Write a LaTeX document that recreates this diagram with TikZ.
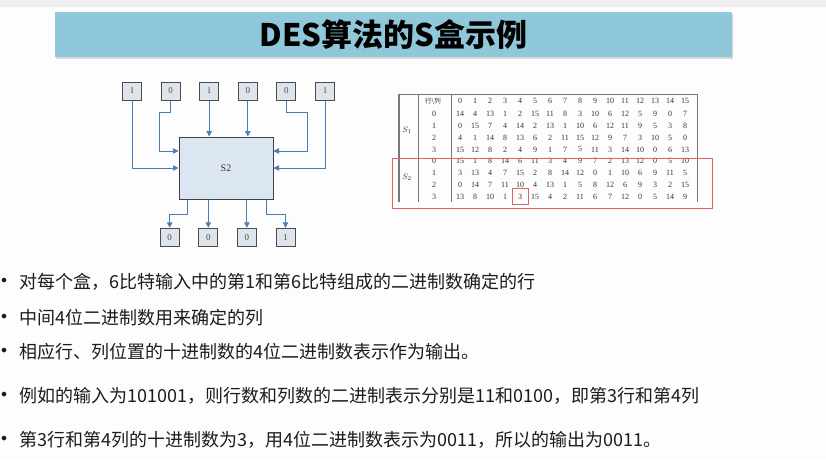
\documentclass[tikz,border=0pt]{standalone}
\usepackage{fontspec}
\setmainfont{Liberation Serif}
\newfontfamily\cjk{Noto Sans CJK SC}
\newfontfamily\dotfont{DejaVu Sans}
\usetikzlibrary{positioning,arrows.meta,shadows}
\definecolor{PageGray}{RGB}{239,239,239}
\definecolor{PageWhite}{RGB}{253,253,253}
\definecolor{BarBlue}{RGB}{143,200,218}
\definecolor{FlowBlue}{RGB}{74,126,187}
\definecolor{BitFill}{RGB}{222,228,236}
\definecolor{SBoxFill}{RGB}{220,230,242}
\definecolor{TableGray}{RGB}{120,120,120}
\definecolor{FrameRed}{RGB}{226,98,98}
\definecolor{TextDark}{RGB}{28,28,28}
\tikzset{
  flow/.style={-{Triangle[length=5.5pt,width=5.5pt]},line width=0.9pt,draw=FlowBlue},
  bitbox/.style={draw=black!70,fill=BitFill,line width=1pt,minimum width=19pt,
    minimum height=18pt,inner sep=0pt,font=\fontsize{9}{10}\selectfont,text=black!70},
  sboxnode/.style={draw=black!75,fill=SBoxFill,line width=1pt,minimum width=94pt,
    minimum height=62pt,inner sep=0pt,font=\fontsize{10}{12}\selectfont,text=black!80},
  titlebar/.style={fill=BarBlue,minimum width=677pt,minimum height=45pt,inner sep=0pt,
    drop shadow={shadow xshift=1pt,shadow yshift=-2pt,opacity=0.3},
    font=\cjk\bfseries\fontsize{31}{33}\selectfont},
  cell/.style={inner sep=0pt,font=\fontsize{8}{9}\selectfont,text=black!80},
  tabline/.style={draw=TableGray,line width=1.1pt},
  redframe/.style={draw=FrameRed,line width=0.9pt},
  bullet/.style={anchor=center,inner sep=0pt,font=\dotfont\fontsize{16}{17}\selectfont,text=TextDark},
  point/.style={anchor=west,inner sep=0pt,font=\cjk\fontsize{18}{20}\selectfont,text=TextDark}
}

\begin{document}
\begin{tikzpicture}[x=1pt,y=1pt,node distance=18.6pt]
  \fill[PageWhite] (0,0) rectangle (826,459);
  \fill[PageGray] (0,452) rectangle (826,459);
  \useasboundingbox (0,0) rectangle (826,459);

  \node[titlebar] (title) at (393.5,424.5) {DES算法的S盒示例};

  \node[bitbox] (in1) at (132,368) {1};
  \node[bitbox,right=of in1] (in2) {0};
  \node[bitbox,right=of in2] (in3) {1};
  \node[bitbox,right=of in3] (in4) {0};
  \node[bitbox,right=of in4] (in5) {0};
  \node[bitbox,right=of in5] (in6) {1};
  \node[sboxnode] (sbox) at (226,291) {S2};
  \node[bitbox] (out1) at (169.7,221.7) {0};
  \node[bitbox,right=of out1] (out2) {0};
  \node[bitbox,right=of out2] (out3) {0};
  \node[bitbox,right=of out3] (out4) {1};

  \draw[flow] (in1.south) |- (sbox.west);
  \draw[flow] (in2.south) |- ++(-11,-12) |- ([yshift=17pt]sbox.west);
  \draw[flow] (in3) -- (in3 |- sbox.north);
  \draw[flow] (in4) -- (in4 |- sbox.north);
  \draw[flow] (in5.south) |- ++(21,-12) |- ([yshift=17pt]sbox.east);
  \draw[flow] (in6.south) |- (sbox.east);
  \draw[flow] ([xshift=-39pt]sbox.south) -- ++(0,-15) -| (out1.north);
  \draw[flow] (sbox.south -| out2) -- (out2);
  \draw[flow] (sbox.south -| out3) -- (out3);
  \draw[flow] ([xshift=40pt]sbox.south) -- ++(0,-15) -| (out4.north);

  \draw[tabline] (399,257.3) -- (399,364.7) -- (697.7,364.7) -- (697.7,257.3);
  \draw[tabline] (418.3,364.7) -- (418.3,257.3);
  \draw[tabline] (451.7,364.7) -- (451.7,257.3);
  \node[cell,font=\cjk\fontsize{6.5}{7}\selectfont] (head) at (433,358) {行\symbol{92}列};
  \foreach \c in {0,...,15}
    \node[cell] (h-\c) at (460+15*\c,358) {\c};
  \node[cell,font=\itshape\fontsize{8}{9}\selectfont] (s1) at (407,329) {$S_1$};
  \node[cell,font=\itshape\fontsize{8}{9}\selectfont] (s2) at (407,282) {$S_2$};
  \foreach \r in {0,...,7} {
    \pgfmathtruncatemacro\idx{mod(\r,4)}
    \node[cell] (r-\r) at (434,345-11.8*\r) {\idx};
  }
  \foreach \row [count=\r from 0] in {
    {14,4,13,1,2,15,11,8,3,10,6,12,5,9,0,7},
    {0,15,7,4,14,2,13,1,10,6,12,11,9,5,3,8},
    {4,1,14,8,13,6,2,11,15,12,9,7,3,10,5,0},
    {15,12,8,2,4,9,1,7,5,11,3,14,10,0,6,13},
    {15,1,8,14,6,11,3,4,9,7,2,13,12,0,5,10},
    {3,13,4,7,15,2,8,14,12,0,1,10,6,9,11,5},
    {0,14,7,11,10,4,13,1,5,8,12,6,9,3,2,15},
    {13,8,10,1,3,15,4,2,11,6,7,12,0,5,14,9}} {
    \foreach \v [count=\c from 0] in \row
      \node[cell] (c-\r-\c) at (460+15*\c,345-11.8*\r) {\v};
  }
  \draw[redframe] (392.3,250.7) rectangle (712,300.7);
  \draw[redframe] ([shift={(-8,-8)}]c-7-4.center) rectangle ([shift={(8,8)}]c-7-4.center);

  \node[bullet] (d1) at (4,177) {•};
  \node[point] (p1) at (19,177) {对每个盒，6比特输入中的第1和第6比特组成的二进制数确定的行};
  \node[bullet] (d2) at (4,141) {•};
  \node[point] (p2) at (19,141) {中间4位二进制数用来确定的列};
  \node[bullet] (d3) at (4,107) {•};
  \node[point] (p3) at (19,107) {相应行、列位置的十进制数的4位二进制数表示作为输出。};
  \node[bullet] (d4) at (4,63) {•};
  \node[point] (p4) at (19,63) {例如的输入为101001，则行数和列数的二进制表示分别是11和0100，即第3行和第4列};
  \node[bullet] (d5) at (4,19) {•};
  \node[point] (p5) at (19,19) {第3行和第4列的十进制数为3，用4位二进制数表示为0011，所以的输出为0011。};
\end{tikzpicture}
\end{document}
